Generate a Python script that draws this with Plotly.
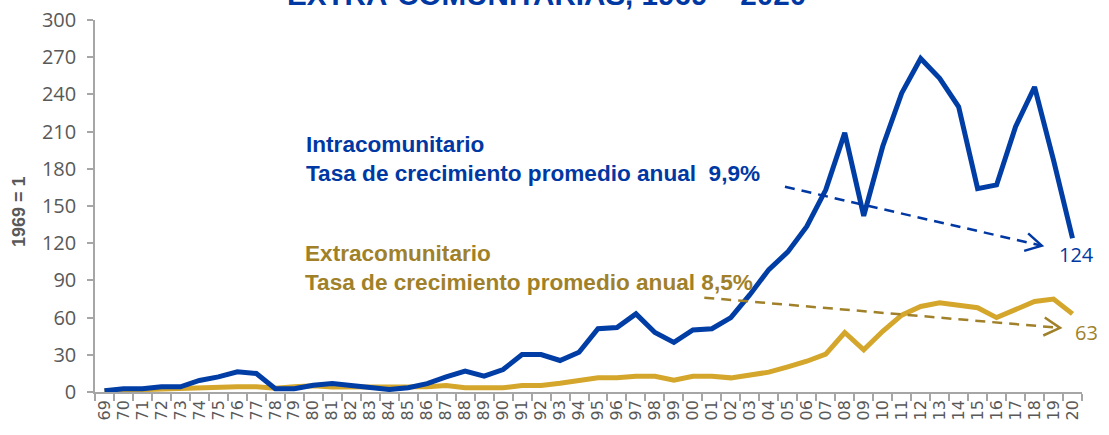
import plotly.graph_objects as go

# years 1969-2020, shown as two-digit labels
years = [str(y)[-2:] for y in range(1969, 2021)]

intra = [1, 2.6, 2.6, 4.2, 4.2, 9.3, 12.2, 16.3, 14.9, 2.6, 2.6, 5.5,
         6.8, 5.2, 3.4, 2, 3.4, 6.8, 12.2, 16.8, 12.8, 18.1, 30.2, 30.2,
         25.4, 32, 51, 52, 63, 48, 40, 50, 51, 60, 78.5, 98.7,
         113, 133.5, 163, 209, 142, 198, 241, 269, 253, 230, 164, 167,
         214, 246, 187, 124]

extra = [1, 1.5, 2, 2.5, 3, 4.2, 4.2, 4.2, 4.2, 3, 4.2, 5,
         4, 4, 4, 4.2, 4, 4.2, 5.2, 3.4, 3.4, 3.4, 5.2, 5.2,
         7, 9, 11.4, 11.4, 12.7, 12.7, 9.5, 12.7, 12.7, 11.4, 13.2, 16,
         20.3, 24.8, 30.5, 48, 34, 49, 62, 69, 72, 70.5, 68, 60,
         66, 73, 75, 63]

# dashed trend arrows: (start index, start value, tip index, tip value)
intra_arrow = [35.85, 165.5, 49.38, 118]
extra_arrow = [31.6, 76.1, 50.34, 51.7]

BLUE_LINE = "#003DA5"
BLUE_TEXT = "#0038A3"
GOLD_LINE = "#D4A72C"
GOLD_TEXT = "#A0812A"
GRAY = "#595959"
AXIS = "#A6A6A6"

W, H = 1109, 435
ML, MR, MT, MB = 95, 27, 20, 43
px_x = (W - ML - MR) / len(years)
px_y = (H - MT - MB) / 300
last = len(years) - 1

fig = go.Figure()
fig.add_trace(go.Scatter(x=years, y=extra, mode="lines",
                         line=dict(color=GOLD_LINE, width=5), hoverinfo="skip"))
fig.add_trace(go.Scatter(x=years, y=intra, mode="lines",
                         line=dict(color=BLUE_LINE, width=5), hoverinfo="skip"))


def trend_arrow(a, color):
    x0, y0, x1, y1 = a
    fig.add_shape(type="line", x0=x0, y0=y0, x1=x1, y1=y1, xref="x", yref="y",
                  line=dict(color=color, width=2.5, dash="10px,7px"))
    # open chevron head, drawn in pixels around the tip
    dx, dy = (x1 - x0) * px_x, (y1 - y0) * px_y
    n = (dx ** 2 + dy ** 2) ** 0.5
    ux, uy = dx / n, dy / n
    px_, py_ = -uy, ux
    ax, ay = -16 * ux + 9 * px_, -16 * uy + 9 * py_
    bx, by = -16 * ux - 9 * px_, -16 * uy - 9 * py_
    fig.add_shape(type="path", xref="x", yref="y",
                  xsizemode="pixel", ysizemode="pixel", xanchor=x1, yanchor=y1,
                  path=f"M {ax:.1f},{ay:.1f} L 0,0 L {bx:.1f},{by:.1f}",
                  line=dict(color=color, width=2.5))


trend_arrow(intra_arrow, BLUE_TEXT)
trend_arrow(extra_arrow, GOLD_TEXT)

fig.add_annotation(x=last, y=intra[-1], text=str(intra[-1]), showarrow=False,
                   xshift=4, yshift=-16, font=dict(family="Open Sans", size=20, color=BLUE_TEXT))
fig.add_annotation(x=last, y=extra[-1], text=str(extra[-1]), showarrow=False,
                   xshift=14, yshift=-19, font=dict(family="Open Sans", size=20, color=GOLD_TEXT))

fig.add_annotation(xref="paper", yref="paper", x=(304 - ML) / 987, y=0.705,
                   xanchor="left", yanchor="top", align="left", showarrow=False,
                   text="<b>Intracomunitario<br>Tasa de crecimiento promedio anual  9,9%</b>",
                   font=dict(family="Liberation Sans", size=22.6, color=BLUE_TEXT))
fig.add_annotation(xref="paper", yref="paper", x=(303 - ML) / 987, y=0.41,
                   xanchor="left", yanchor="top", align="left", showarrow=False,
                   text="<b>Extracomunitario<br>Tasa de crecimiento promedio anual 8,5%</b>",
                   font=dict(family="Liberation Sans", size=22.6, color=GOLD_TEXT))

# title, mostly cut off at the top of the picture
fig.add_annotation(xref="paper", yref="paper", x=(546 - ML) / 987, y=1.019,
                   xanchor="center", yanchor="bottom", showarrow=False,
                   text="<b>EXTRA-COMUNITARIAS, 1969 – 2020</b>",
                   font=dict(family="Liberation Sans", size=29.6, color=BLUE_TEXT))

# y axis title
fig.add_annotation(xref="paper", yref="paper", x=(19 - ML) / 987, y=(392 - 212) / 372,
                   xanchor="center", yanchor="middle", textangle=-90, showarrow=False,
                   text="<b>1969 = 1</b>",
                   font=dict(family="Liberation Sans", size=18, color=GRAY))

fig.update_layout(
    width=W, height=H,
    margin=dict(l=ML, r=MR, t=MT, b=MB),
    plot_bgcolor="white", paper_bgcolor="white",
    showlegend=False,
    xaxis=dict(type="category", tickson="boundaries", showgrid=False,
               range=[-0.5, len(years) - 0.5],
               tickmode="linear", tick0=0, dtick=1, automargin=False,
               showline=True, linecolor=AXIS, linewidth=1.5,
               ticks="outside", ticklen=7, tickcolor=AXIS, tickwidth=1.5,
               tickangle=-90, tickfont=dict(family="DejaVu Sans", size=16, color=GRAY)),
    yaxis=dict(range=[0, 300], dtick=30, showgrid=False, zeroline=False,
               automargin=False,
               showline=True, linecolor=AXIS, linewidth=1.5,
               ticks="outside", ticklen=6, tickcolor=AXIS, tickwidth=1.5,
               ticklabelstandoff=7,
               tickfont=dict(family="Open Sans", size=20, color=GRAY)),
)

fig.write_html("out.html", config={"displayModeBar": False},
               post_script="document.body.style.margin='0';")
